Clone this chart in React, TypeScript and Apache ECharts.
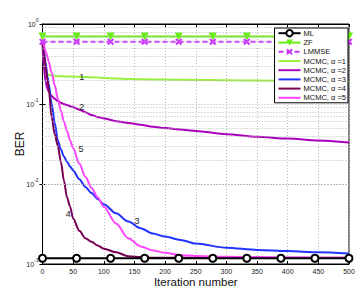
import React, { useEffect, useRef } from "react";
import * as echarts from "echarts";

// marker positions for the reference curves (10 evenly spaced markers)
const markerIters = [0, 55.6, 111.1, 166.7, 222.2, 277.8, 333.3, 388.9, 444.4, 500];
const mlBer = [0.00118, 0.00118, 0.00118, 0.00118, 0.00118, 0.00118, 0.00118, 0.00118, 0.00118, 0.00118];
const zfBer = [0.7, 0.7, 0.7, 0.7, 0.7, 0.7, 0.7, 0.7, 0.7, 0.7];
const lmmseBer = [0.6, 0.6, 0.6, 0.6, 0.6, 0.6, 0.6, 0.6, 0.6, 0.6];

// MCMC curves sampled at these iterations
const iters = [0, 2, 5, 8, 10, 15, 20, 25, 30, 35, 40, 45, 50, 60, 70, 80, 90, 100, 120, 140, 160, 180, 200, 225, 250, 300, 350, 400, 450, 500];
const mcmc1 = [0.6, 0.32, 0.245, 0.235, 0.232, 0.228, 0.225, 0.223, 0.222, 0.221, 0.221, 0.22, 0.22, 0.219, 0.217, 0.216, 0.214, 0.212, 0.208, 0.206, 0.204, 0.203, 0.202, 0.201, 0.2, 0.198, 0.196, 0.194, 0.192, 0.19];
const mcmc2 = [0.6, 0.3, 0.19, 0.155, 0.143, 0.126, 0.116, 0.109, 0.104, 0.1, 0.097, 0.094, 0.091, 0.085, 0.079, 0.073, 0.069, 0.066, 0.061, 0.058, 0.055, 0.052, 0.05, 0.048, 0.046, 0.042, 0.039, 0.037, 0.035, 0.033];
const mcmc3 = [0.6, 0.48, 0.33, 0.22, 0.18, 0.1, 0.058, 0.035, 0.027, 0.022, 0.019, 0.0165, 0.0148, 0.0115, 0.0092, 0.0077, 0.0065, 0.0056, 0.0043, 0.0034, 0.0028, 0.0024, 0.0022, 0.002, 0.0018, 0.0016, 0.0015, 0.00145, 0.0014, 0.00135];
const mcmc4 = [0.6, 0.45, 0.3, 0.2, 0.16, 0.068, 0.042, 0.03, 0.019, 0.011, 0.0068, 0.0052, 0.0037, 0.0026, 0.0021, 0.0019, 0.0017, 0.00155, 0.0014, 0.00125, 0.00122, 0.0012, 0.0012, 0.0012, 0.0012, 0.0012, 0.0012, 0.0012, 0.0012, 0.0012];
const mcmc5 = [0.6, 0.55, 0.46, 0.39, 0.34, 0.245, 0.17, 0.117, 0.083, 0.06, 0.046, 0.035, 0.028, 0.018, 0.0123, 0.0089, 0.0068, 0.0052, 0.0032, 0.0021, 0.00166, 0.00148, 0.00138, 0.00129, 0.00126, 0.00123, 0.00122, 0.00121, 0.0012, 0.0012];

// curve annotations (text, iteration, BER)
const curveLabels: [string, number, number][] = [
  ["1", 64, 0.219],
  ["2", 64, 0.0917],
  ["3", 154, 0.00347],
  ["4", 42, 0.00422],
  ["5", 63, 0.0274],
];

const decades = [0.001, 0.01, 0.1];
const minorMultipliers = [2, 3, 4, 5, 6, 7, 8, 9];

const seriesNames = ["ML", "ZF", "LMMSE", "MCMC, α =1", "MCMC, α =2", "MCMC, α =3", "MCMC, α =4", "MCMC, α =5"];
const colors = ["#000000", "#66ee11", "#cc33ff", "#99f040", "#aa00bb", "#2233ff", "#770055", "#ff44ff"];

const FONT = "Liberation Sans, Arial, Helvetica, sans-serif";
const xSymbol = "path://M0,2L2,0L5,3L8,0L10,2L7,5L10,8L8,10L5,7L2,10L0,8L3,5Z";
const lineIcon = "path://M0,0h22v2h-22z";

export default function App() {
  const ref = useRef<HTMLDivElement>(null);
  useEffect(() => {
    if (!ref.current) return;
    const chart = echarts.init(ref.current, undefined, { renderer: "svg" });
    const pair = (xs: number[], ys: number[]) => xs.map((x, i) => [x, ys[i]]);
    const mcmcs = [mcmc1, mcmc2, mcmc3, mcmc4, mcmc5];
    const minorLevels: number[] = [];
    decades.forEach((d) => minorMultipliers.forEach((m) => minorLevels.push(d * m)));

    const labelFor = (idx: number) => {
      const l = curveLabels[idx];
      return {
        symbol: "circle",
        symbolSize: 1,
        silent: true,
        itemStyle: { color: "rgba(0,0,0,0)" },
        label: { show: true, position: "inside", formatter: l[0], color: "#222", fontSize: 9, fontFamily: FONT },
        data: [{ coord: [l[1], l[2]] }],
      };
    };

    const series: any[] = [
      {
        name: "__grid",
        type: "line",
        data: [],
        z: 1,
        silent: true,
        markLine: {
          silent: true,
          symbol: ["none", "none"],
          label: { show: false },
          lineStyle: { type: [1, 2], color: "#b8b8b8", width: 1 },
          data: minorLevels.map((v) => ({ yAxis: v })),
        },
      },
      {
        name: seriesNames[0],
        type: "line",
        z: 5,
        data: pair(markerIters, mlBer),
        symbol: "circle",
        symbolSize: 7,
        showAllSymbol: true,
        lineStyle: { color: colors[0], width: 2 },
        itemStyle: { color: "#ffffff", borderColor: "#000", borderWidth: 2 },
      },
      {
        name: seriesNames[1],
        type: "line",
        z: 4,
        data: pair(markerIters, zfBer),
        symbol: "triangle",
        symbolRotate: 180,
        symbolSize: 8,
        showAllSymbol: true,
        lineStyle: { color: colors[1], width: 2 },
        itemStyle: { color: colors[1] },
      },
      {
        name: seriesNames[2],
        type: "line",
        z: 4,
        data: pair(markerIters, lmmseBer),
        symbol: xSymbol,
        symbolSize: 7,
        showAllSymbol: true,
        lineStyle: { color: colors[2], width: 2, type: [5, 3] },
        itemStyle: { color: colors[2] },
      },
    ];
    mcmcs.forEach((vals, i) => {
      series.push({
        name: seriesNames[3 + i],
        type: "line",
        z: 3,
        data: pair(iters, vals),
        symbol: "none",
        smooth: 0.3,
        smoothMonotone: "x",
        lineStyle: { color: colors[3 + i], width: 2 },
        itemStyle: { color: colors[3 + i] },
        markPoint: labelFor(i),
      });
    });

    chart.setOption({
      animation: false,
      backgroundColor: "#ffffff",
      textStyle: { fontFamily: FONT },
      grid: {
        left: 42.5,
        right: 11,
        top: 24,
        bottom: 26,
        containLabel: false,
        outerBoundsMode: "none",
        show: true,
        borderColor: "#000",
        borderWidth: 1,
        backgroundColor: "#fff",
      },
      legend: {
        data: seriesNames.map((n, i) => (i < 3 ? { name: n } : { name: n, icon: lineIcon })),
        orient: "vertical",
        right: 12,
        top: 28,
        z: 20,
        backgroundColor: "#ffffff",
        borderColor: "#000",
        borderWidth: 1,
        borderRadius: 0,
        padding: [1, 2, 1, 3],
        itemGap: 1.2,
        itemWidth: 22,
        itemHeight: 8,
        textStyle: { fontSize: 7.5, lineHeight: 8, color: "#111", fontFamily: FONT, padding: [0, 0, 0, -2] },
      },
      xAxis: [
        {
          type: "value",
          min: 0,
          max: 500,
          interval: 50,
          name: "Iteration number",
          nameLocation: "middle",
          nameGap: 12,
          nameMoveOverlap: false,
          nameTextStyle: { fontSize: 11.5, color: "#111", fontFamily: FONT },
          axisLine: { show: true, lineStyle: { color: "#000" } },
          axisTick: { inside: true, length: 3, lineStyle: { color: "#000" } },
          axisLabel: { fontSize: 7, color: "#222", margin: 4, fontFamily: FONT },
          splitLine: { show: true, lineStyle: { type: [1, 2], color: "#b8b8b8" } },
        },
        {
          type: "value",
          position: "top",
          min: 0,
          max: 500,
          interval: 50,
          axisLine: { show: true, lineStyle: { color: "#000" } },
          axisTick: { inside: true, length: 3, lineStyle: { color: "#000" } },
          axisLabel: { show: false },
          splitLine: { show: false },
        },
      ],
      yAxis: [
        {
          type: "log",
          logBase: 10,
          min: 0.001,
          max: 1,
          name: "BER",
          nameLocation: "middle",
          nameGap: 17,
          nameMoveOverlap: false,
          nameTextStyle: { fontSize: 12, color: "#111", fontFamily: FONT },
          axisLine: { show: true, lineStyle: { color: "#000" } },
          axisTick: { inside: true, length: 3, lineStyle: { color: "#000" } },
          axisLabel: {
            margin: 4,
            formatter: (v: number) => `{b|10}{s|${Math.round(Math.log10(v))}}`,
            rich: {
              b: { fontSize: 7, color: "#222", fontFamily: FONT },
              s: { fontSize: 5, color: "#222", fontFamily: FONT, padding: [0, 0, 8, 0] },
            },
          },
          splitLine: { show: true, lineStyle: { type: [1, 2], color: "#b8b8b8" } },
        },
        {
          type: "log",
          logBase: 10,
          min: 0.001,
          max: 1,
          position: "right",
          axisLine: { show: true, lineStyle: { color: "#000" } },
          axisTick: { inside: true, length: 3, lineStyle: { color: "#000" } },
          axisLabel: { show: false },
          splitLine: { show: false },
        },
      ],
      series,
    });
    return () => chart.dispose();
  }, []);
  return <div ref={ref} style={{ position: "absolute", left: 0, top: 0, width: 360, height: 290, background: "#fff" }} />;
}
